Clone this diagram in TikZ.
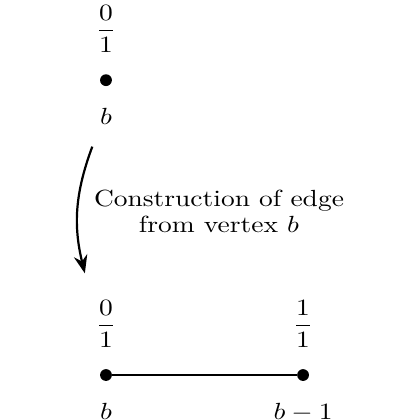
\documentclass[tikz,border=0pt]{standalone}
\usepackage{amsmath}
\usepackage{tikz}
\usetikzlibrary{arrows.meta,positioning}

\begin{document}
\begin{tikzpicture}[vertex/.style={circle, fill, inner sep=0pt, minimum size=4.3pt}, lbl/.style={yscale=0.85}, node distance=4.8pt]
\useasboundingbox (-1.355,-0.575) rectangle (4.015,4.795);
% Single vertex
\node[vertex] (top) at (0,3.77) {};
\node[lbl, above=of top] (topfrac) {$\dfrac{0}{1}$};
\node[lbl, below=of top] (toplbl) {$b$};
% Curved arrow with explanation
\coordinate (arrstart) at (-0.175,2.92);
\coordinate (arrend) at (-0.27,1.30);
\draw[thick, -{Stealth}] (arrstart) to[bend right=17] (arrend);
\node[lbl, align=center] (expl) at (1.445,2.09) {Construction of edge\\[-1pt]from vertex $b$};
% Edge between two vertices
\node[vertex] (left) at (0,0) {};
\node[vertex] (right) at (2.52,0) {};
\draw (left) -- (right);
\node[lbl, above=of left] (leftfrac) {$\dfrac{0}{1}$};
\node[lbl, above=of right] (rightfrac) {$\dfrac{1}{1}$};
\node[lbl, below=of left] (leftlbl) {$b$};
\node[lbl, below=of right] (rightlbl) {$b-1$};
\end{tikzpicture}
\end{document}
